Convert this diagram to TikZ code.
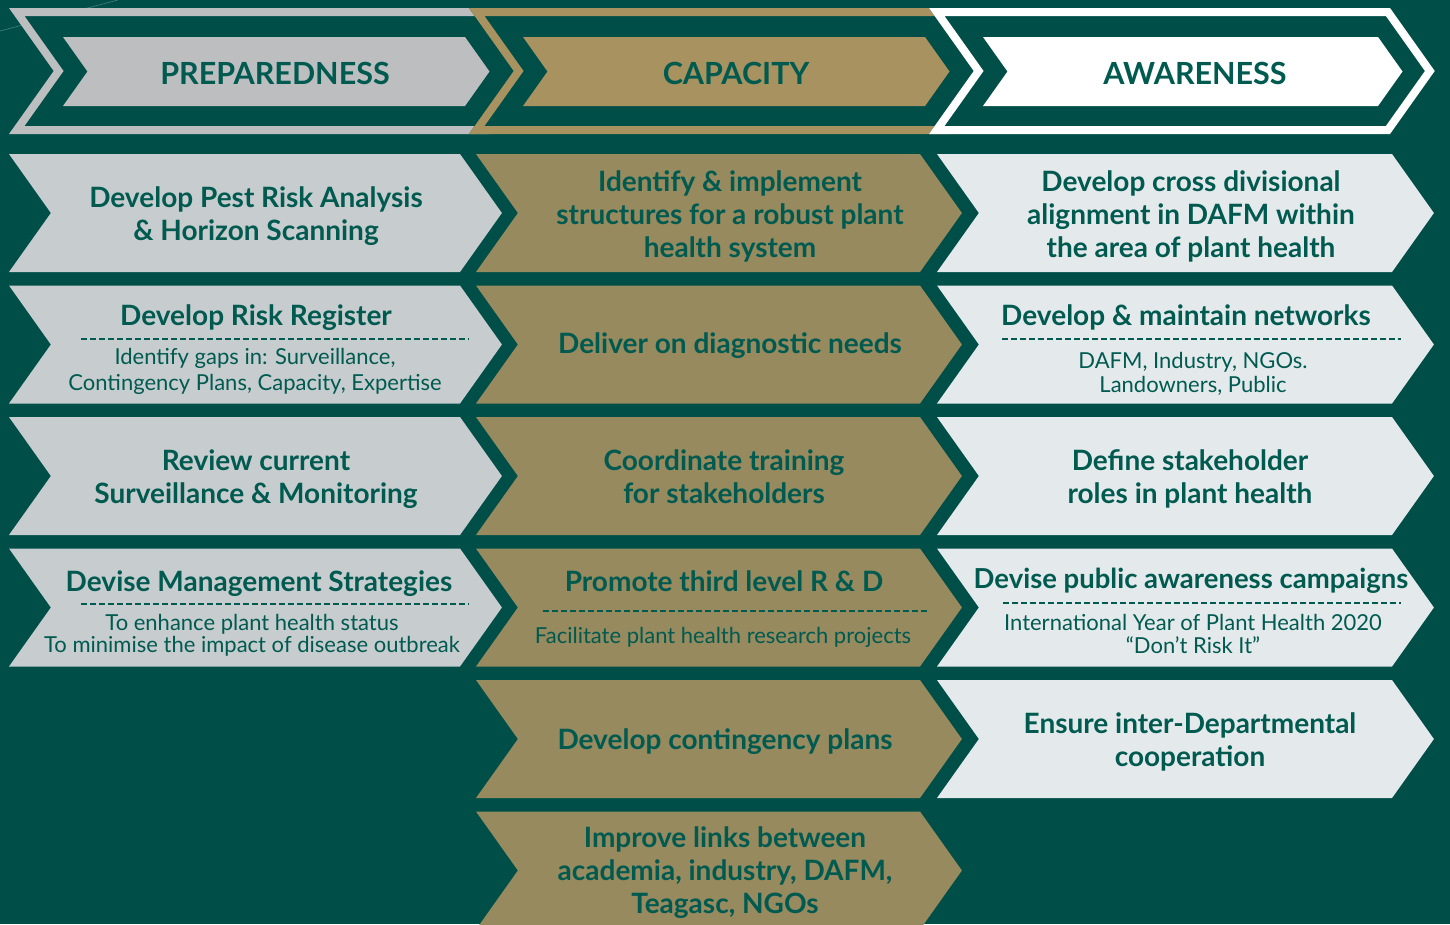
\documentclass[tikz,border=0pt]{standalone}
\usepackage{fontspec}
\setmainfont{Lato}
\usetikzlibrary{positioning}

\definecolor{bgc}{HTML}{004E48}
\definecolor{txt}{HTML}{005A50}
\definecolor{prephead}{HTML}{BDBEC0}
\definecolor{caphead}{HTML}{A8925F}
\definecolor{prepbody}{HTML}{C7CCCE}
\definecolor{capbody}{HTML}{968A5E}
\definecolor{awbody}{HTML}{E4E9EB}

% chevron outline: x, y (top), top width, height
\newcommand{\chevp}[4]{(#1,#2) -- ++(#3,0) -- ++({0.355*#4},{#4/2}) -- ++({-0.355*#4},{#4/2}) -- ++(-#3,0) -- ++({0.355*#4},{-#4/2}) -- cycle}
\newcommand{\chev}[5]{\fill[#5] \chevp{#1}{#2}{#3}{#4};}
% header frame: x, top width, colour
\newcommand{\hdrframe}[3]{%
	\begin{scope}
		\clip \chevp{#1}{8}{#2}{126};
		\fill[bgc] \chevp{#1}{8}{#2}{126};
		\draw[#3, line width=16pt, line join=miter] \chevp{#1}{8}{#2}{126};
	\end{scope}}

\tikzset{
	head/.style={font=\bfseries\fontsize{30.5}{34}\selectfont, text=txt, anchor=base},
	ttl/.style={font=\bfseries\fontsize{28}{33}\selectfont, text=txt, align=center, anchor=base},
	sub/.style={font=\fontsize{22}{24}\selectfont, text=txt, align=center, anchor=base},
	sep/.style={draw=txt, line width=2.4pt, dash pattern=on 6pt off 3pt}
}

\begin{document}
\begin{tikzpicture}[x=1pt,y=-1pt]

	\clip (0,0) rectangle (1450,924);
	\fill[bgc] (0,0) rectangle (1450,924);
	\coordinate (gl1) at (0,31);
	\coordinate (gl2) at (118,0);
	\draw[bgc!75!white, line width=0.7pt] (gl1) -- (gl2);

	% Header frames
	\hdrframe{9}{480}{prephead}
	\hdrframe{469}{480}{caphead}
	\hdrframe{929}{461}{white}

	% Header arrows
	\chev{63}{37}{402}{69}{prephead}
	\chev{523}{37}{402}{69}{caphead}
	\chev{983}{37}{395}{69}{white}
	\node[head] (hprep) at (275,84) {PREPAREDNESS};
	\node[head] (hcap) at (736,84) {CAPACITY};
	\node[head] (haw) at (1195,84) {AWARENESS};

	% Preparedness column
	\chev{9}{154}{451}{118}{prepbody}
	\chev{9}{285.5}{451}{118}{prepbody}
	\chev{9}{417}{451}{118}{prepbody}
	\chev{9}{548.5}{451}{118}{prepbody}

	\node[ttl] (prep1) at (256,240) {Develop Pest Risk Analysis\\ \& Horizon Scanning};
	\node[ttl] (prep2) at (256,325) {Develop Risk Register};
	\coordinate (prep2l) at (81,339);
	\coordinate (prep2r) at (469,339);
	\draw[sep] (prep2l) -- (prep2r);
	\node[sub, font=\fontsize{22}{26}\selectfont] (prep2s) at (255,390) {Identify gaps in: Surveillance,\\ Contingency Plans, Capacity, Expertise};
	\node[ttl] (prep3) at (256,503) {Review current\\ Surveillance \& Monitoring};
	\node[ttl] (prep4) at (259,591) {Devise Management Strategies};
	\coordinate (prep4l) at (81,604);
	\coordinate (prep4r) at (469,604);
	\draw[sep] (prep4l) -- (prep4r);
	\node[sub, font=\fontsize{22}{22}\selectfont] (prep4s) at (252,652) {To enhance plant health status\\ To minimise the impact of disease outbreak};

	% Capacity column
	\chev{476}{154}{444}{118}{capbody}
	\chev{476}{285.5}{444}{118}{capbody}
	\chev{476}{417}{444}{118}{capbody}
	\chev{476}{548.5}{444}{118}{capbody}
	\chev{476}{680}{444}{118}{capbody}
	\chev{476}{811.5}{444}{118}{capbody}

	\node[ttl] (cap1) at (730,257) {Identify \& implement\\ structures for a robust plant\\ health system};
	\node[ttl] (cap2) at (730,353) {Deliver on diagnostic needs};
	\node[ttl] (cap3) at (724,503) {Coordinate training\\ for stakeholders};
	\node[ttl] (cap4) at (724,591) {Promote third level R \& D};
	\coordinate (cap4l) at (543,611);
	\coordinate (cap4r) at (928,611);
	\draw[sep] (cap4l) -- (cap4r);
	\node[sub] (cap4s) at (723,643) {Facilitate plant health research projects};
	\node[ttl] (cap5) at (725,749) {Develop contingency plans};
	\node[ttl] (cap6) at (725,913) {Improve links between\\ academia, industry, DAFM,\\ Teagasc, NGOs};

	% Awareness column
	\chev{937}{154}{455}{118}{awbody}
	\chev{937}{285.5}{455}{118}{awbody}
	\chev{937}{417}{455}{118}{awbody}
	\chev{937}{548.5}{455}{118}{awbody}
	\chev{937}{680}{455}{118}{awbody}

	\node[ttl] (aw1) at (1191,257) {Develop cross divisional\\ alignment in DAFM within\\ the area of plant health};
	\node[ttl] (aw2) at (1186,325) {Develop \& maintain networks};
	\coordinate (aw2l) at (1002,339);
	\coordinate (aw2r) at (1401,339);
	\draw[sep] (aw2l) -- (aw2r);
	\node[sub] (aw2s) at (1193,392) {DAFM, Industry, NGOs.\\ Landowners, Public};
	\node[ttl] (aw3) at (1190,503) {Define stakeholder\\ roles in plant health};
	\node[ttl, font=\bfseries\fontsize{27.5}{33}\selectfont] (aw4) at (1191,588) {Devise public awareness campaigns};
	\coordinate (aw4l) at (1003,603);
	\coordinate (aw4r) at (1401,603);
	\draw[sep] (aw4l) -- (aw4r);
	\node[sub, font=\fontsize{22}{23}\selectfont] (aw4s) at (1193,653) {International Year of Plant Health 2020\\ “Don’t Risk It”};
	\node[ttl] (aw5) at (1190,766) {Ensure inter-Departmental\\ cooperation};

\end{tikzpicture}
\end{document}
